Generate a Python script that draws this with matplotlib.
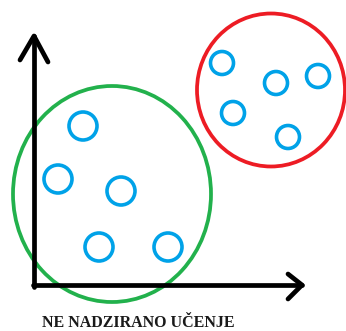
import matplotlib.pyplot as plt
from matplotlib.patches import Ellipse, Circle

# cluster outlines (centre x, centre y, width, height) in pixel units
cluster_x = [112, 271]
cluster_y = [194, 90]
cluster_w = [198, 148]
cluster_h = [216, 153]
cluster_colors = ["#22b14c", "#ed1c24"]

# points
pt_x = [83, 58, 121, 99, 168, 222, 276, 318, 233, 288]
pt_y = [126, 179, 191, 247, 247, 63, 83, 76, 113, 137]
pt_r = [14, 14, 14, 14, 14, 11.5, 11.5, 11.5, 11.5, 11.5]

label = "NE NADZIRANO UČENJE"

fig = plt.figure(figsize=(3.46, 3.31), dpi=100)
ax = fig.add_axes([0, 0, 1, 1])
ax.set_xlim(0, 346)
ax.set_ylim(331, 0)
ax.axis("off")

# axes with arrows
lw_ax = 3.4
ax.plot([34, 34], [36, 287], color="black", lw=lw_ax, solid_capstyle="round")
ax.plot([33, 302], [285, 285], color="black", lw=lw_ax, solid_capstyle="round")
ax.plot([20, 34, 48], [60, 36, 62], color="black", lw=lw_ax,
        solid_capstyle="round", solid_joinstyle="round")
ax.plot([288, 302, 288], [274, 285, 299], color="black", lw=lw_ax,
        solid_capstyle="round", solid_joinstyle="round")

for cx, cy, w, h, c in zip(cluster_x, cluster_y, cluster_w, cluster_h, cluster_colors):
    ax.add_patch(Ellipse((cx, cy), w, h, fill=False, ec=c, lw=2.7))

for x, y, r in zip(pt_x, pt_y, pt_r):
    ax.add_patch(Circle((x, y), r, fill=False, ec="#00a2e8", lw=2.6))

ax.text(42, 323, label, fontsize=11.5, family="Liberation Serif",
        fontweight="bold", va="center", ha="left", color="#1a1a1a")

fig.savefig("out.png", dpi=100)
